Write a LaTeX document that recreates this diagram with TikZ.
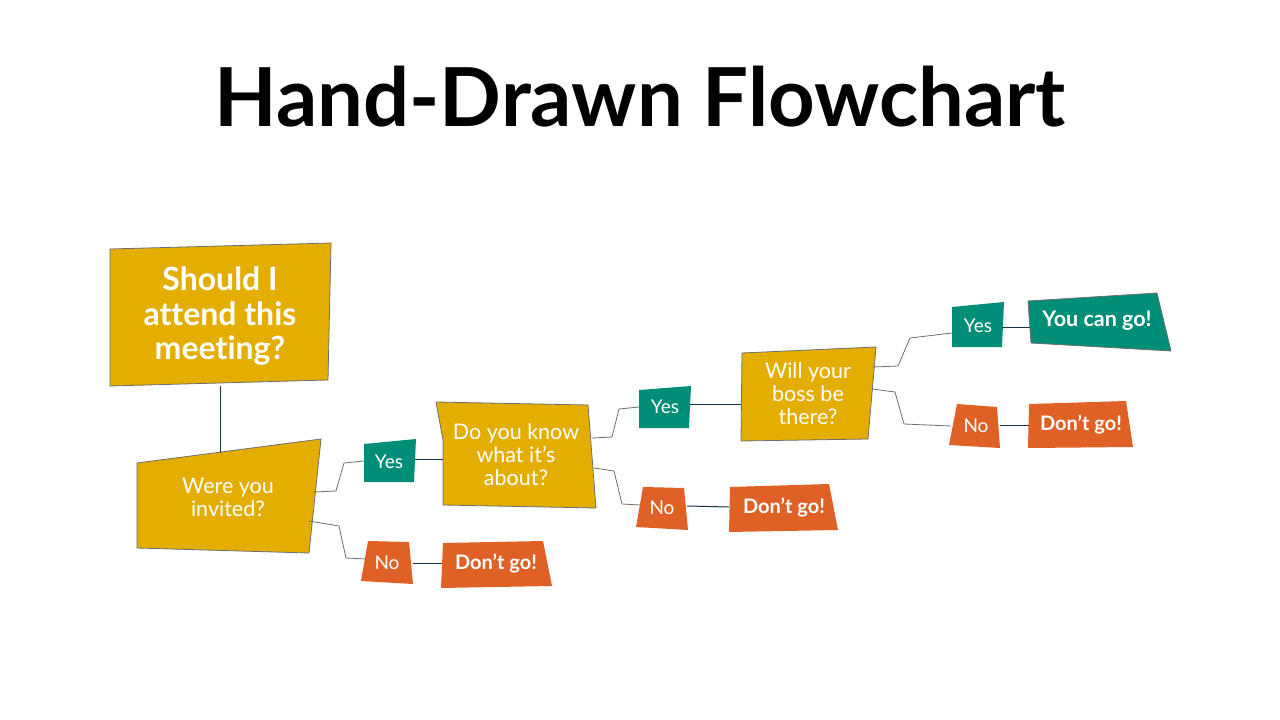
\documentclass[tikz,border=0pt]{standalone}
\usepackage{fontspec}
\usepackage{graphicx}
\setmainfont{Lato}[Ligatures=NoCommon]
\definecolor{gold}{RGB}{227,174,0}
\definecolor{teal}{RGB}{0,142,120}
\definecolor{orng}{RGB}{224,97,38}
\definecolor{edge}{RGB}{110,110,110}
\definecolor{navy}{RGB}{25,50,70}
\tikzset{
  goldbox/.style={fill=gold, draw=edge, line width=0.8pt},
  tealbox/.style={fill=teal},
  orngbox/.style={fill=orng},
  txt/.style={text=white, align=center, inner sep=0pt, font=\fontsize{21.5}{23}\selectfont},
  small/.style={text=white, align=center, inner sep=0pt, font=\fontsize{19}{21}\selectfont},
  boldsmall/.style={text=white, align=center, inner sep=0pt, font=\bfseries\fontsize{20}{21}\selectfont},
  branch/.style={draw=edge, line width=0.8pt},
  link/.style={draw=navy, line width=1pt}
}
\begin{document}
\begin{tikzpicture}[x=1pt,y=-1pt]
\useasboundingbox (0,0) rectangle (1280,720);
\fill[white] (0,0) rectangle (1280,720);

% title
\node[inner sep=0pt] (title) at (640,97) {\resizebox{851pt}{!}{\bfseries Hand-Drawn Flowchart}};

% shapes
\path[goldbox] (110,249) -- (331,243) -- (328,380) -- (110,386) -- cycle;
\path[goldbox] (137,463) -- (321,439) -- (309,553) -- (137,548) -- cycle;
\path[goldbox] (436,402) -- (588,405) -- (596,508) -- (443,505) -- (443,440) -- cycle;
\path[goldbox] (742,353) -- (876,347) -- (868,439) -- (741,441) -- cycle;

\path[tealbox] (364,444) -- (416,439) -- (414,482) -- (364,482) -- cycle;
\path[tealbox] (639,390) -- (691,386) -- (689,428) -- (639,428) -- cycle;
\path[tealbox] (952,307) -- (1004,302) -- (1002,347) -- (952,347) -- cycle;
\path[tealbox, draw=edge, line width=0.8pt] (1028,301) -- (1157,293) -- (1171,351) -- (1031,343) -- cycle;

\path[orngbox] (368,541) -- (409,542) -- (413,584) -- (361,581) -- cycle;
\path[orngbox] (643,487) -- (684,488) -- (688,530) -- (636,527) -- cycle;
\path[orngbox] (957,404) -- (997,407) -- (1000,448) -- (949,445) -- cycle;
\path[orngbox] (443,543) -- (543,541) -- (552,586) -- (441,588) -- cycle;
\path[orngbox] (730,487) -- (829,484) -- (838,530) -- (729,532) -- cycle;
\path[orngbox] (1029,404) -- (1126,401) -- (1133,447) -- (1028,448) -- cycle;

% texts
\node[txt, font=\bfseries\fontsize{32}{34.5}\selectfont] (q0) at (220,316) {Should I\\attend this\\meeting?};
\node[txt] (q1) at (228,497) {Were you\\invited?};
\node[txt] (q2) at (516,455) {Do you know\\what it’s\\about?};
\node[txt] (q3) at (808,394) {Will your\\boss be\\there?};

\node[small] (y1) at (389,462) {Yes};
\node[small] (y2) at (665,407) {Yes};
\node[small] (y3) at (978,326) {Yes};
\node[small] (n1) at (387,563) {No};
\node[small] (n2) at (662,508) {No};
\node[small] (n3) at (976,426) {No};

\node[boldsmall] (d1) at (496,564) {Don’t go!};
\node[boldsmall] (d2) at (784,508) {Don’t go!};
\node[boldsmall] (d3) at (1081,425) {Don’t go!};
\node[boldsmall, font=\bfseries\fontsize{21.5}{23}\selectfont] (ok) at (1097,321) {You can go!};

% connection points
\coordinate (q0b) at (220,386);
\coordinate (q1t) at (220,453);
\coordinate (q1y) at (314,492);
\coordinate (q1n) at (309,521);
\coordinate (y1l) at (364,461);
\coordinate (y1r) at (415,459);
\coordinate (q2l) at (443,459);
\coordinate (n1l) at (366,559);
\coordinate (n1r) at (413,563);
\coordinate (d1l) at (442,563);
\coordinate (q2y) at (592,438);
\coordinate (q2n) at (594,468);
\coordinate (y2l) at (639,407);
\coordinate (y2r) at (690,404);
\coordinate (q3l) at (741,404);
\coordinate (n2l) at (640,505);
\coordinate (n2r) at (687,506);
\coordinate (d2l) at (729,507);
\coordinate (q3y) at (873,367);
\coordinate (q3n) at (872,389);
\coordinate (y3l) at (952,333);
\coordinate (y3r) at (1002,327);
\coordinate (okl) at (1030,327);
\coordinate (n3l) at (951,426);
\coordinate (n3r) at (1000,425);
\coordinate (d3l) at (1029,425);

% connectors
\draw[link] (q0b) -- (q1t);
\draw[branch] (q1y) -- (336,491) -- (344,463) -- (y1l);
\draw[branch] (q1n) -- (339,526) -- (346,558) -- (n1l);
\draw[link] (y1r) -- (q2l);
\draw[link] (n1r) -- (d1l);
\draw[branch] (q2y) -- (612,437) -- (619,409) -- (y2l);
\draw[branch] (q2n) -- (614,471) -- (622,504) -- (n2l);
\draw[link] (y2r) -- (q3l);
\draw[link] (n2r) -- (d2l);
\draw[branch] (q3y) -- (898,366) -- (910,338) -- (y3l);
\draw[branch] (q3n) -- (895,392) -- (904,424) -- (n3l);
\draw[link] (y3r) -- (okl);
\draw[link] (n3r) -- (d3l);
\end{tikzpicture}
\end{document}
